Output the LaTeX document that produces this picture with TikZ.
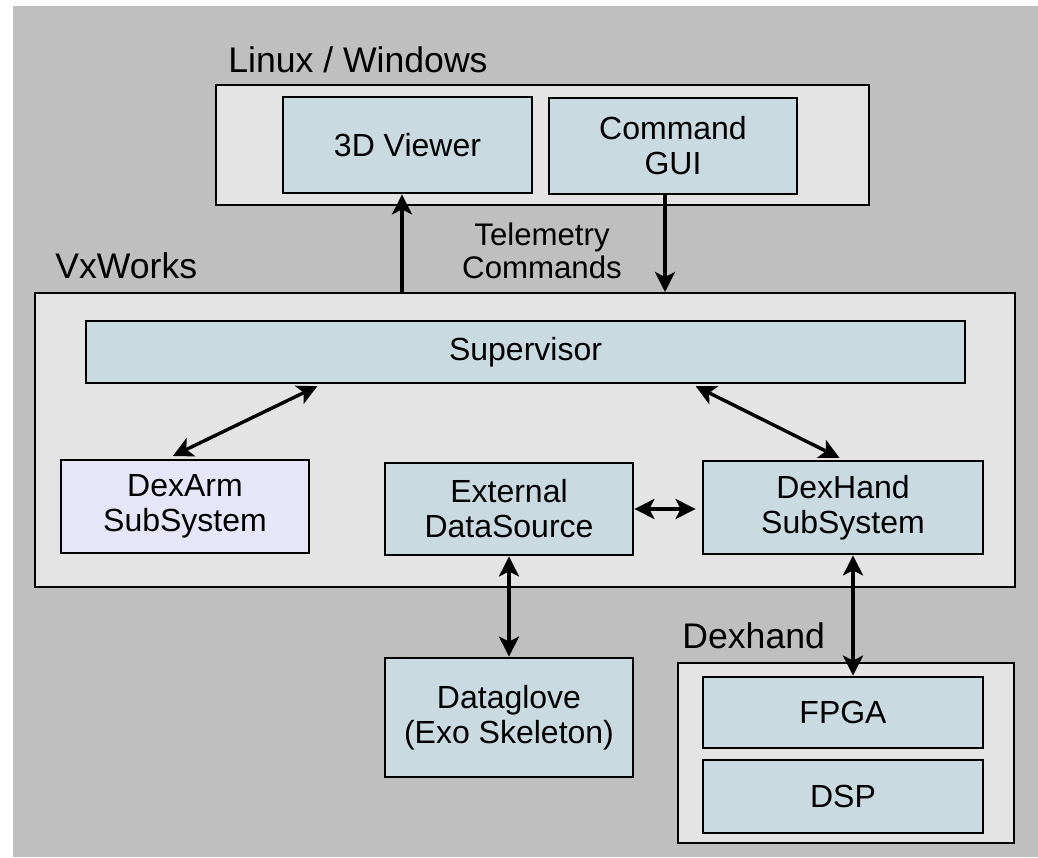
\documentclass[tikz,border=0pt]{standalone}
\usepackage{fontspec}
\setmainfont{Liberation Sans}
\usetikzlibrary{calc, arrows.meta}

\definecolor{PageGray}{HTML}{BFBFBF}
\definecolor{HostFill}{HTML}{E4E4E4}
\definecolor{UnitFill}{HTML}{C9DAE0}
\definecolor{ArmFill}{HTML}{E6E6F8}

\tikzset{
  host/.style={draw, fill=HostFill, line width=1pt, inner sep=0pt},
  unit/.style={draw, fill=UnitFill, line width=1.4pt, inner sep=0pt,
    align=center, font=\fontsize{16}{17.5}\selectfont},
  hostlabel/.style={anchor=base west, inner sep=0pt,
    font=\fontsize{17.8}{20}\selectfont},
  link/.style={line width=1.7pt,
    >={Stealth[length=10pt, width=10pt, inset=2.5pt]}}
}

\begin{document}
\begin{tikzpicture}[x=0.5pt, y=-0.5pt]

\useasboundingbox [fill=white] (0,0) rectangle (1038,857);
\fill [PageGray] (13,6) rectangle (1038,857);

% Linux / Windows
\node [host, minimum width=326.5pt, minimum height=60pt] (linux) at (542.5,145) {};
\node [hostlabel] (linuxlabel) at (228,72) {Linux / Windows};
\node [unit, minimum width=124.5pt, minimum height=48pt] (viewer) at (407.5,145) {3D Viewer};
\node [unit, minimum width=124pt, minimum height=48pt] (gui) at (673,146) {Command\\GUI};

% VxWorks
\node [host, minimum width=490pt, minimum height=147pt] (vxworks) at (525,440) {};
\node [hostlabel] (vxlabel) at (55,278) {VxWorks};
\node [unit, minimum width=439.5pt, minimum height=31pt] (supervisor) at (525.5,352) {Supervisor};
\node [unit, fill=ArmFill, minimum width=124pt, minimum height=46.5pt] (dexarm) at (185,506.5) {DexArm\\SubSystem};
\node [unit, minimum width=124pt, minimum height=46pt] (extds) at (509,509) {External\\DataSource};
\node [unit, minimum width=140pt, minimum height=46.5pt] (dexhand) at (843,507.5) {DexHand\\SubSystem};

% Dataglove and Dexhand
\node [unit, minimum width=124pt, minimum height=59.5pt] (glove) at (509,717.5) {Dataglove\\(Exo Skeleton)};
\node [host, minimum width=168pt, minimum height=90pt] (handbox) at (846,753) {};
\node [hostlabel] (handlabel) at (682,648) {Dexhand};
\node [unit, minimum width=140pt, minimum height=35.5pt] (fpga) at (843,712.5) {FPGA};
\node [unit, minimum width=140pt, minimum height=36.5pt] (dsp) at (843,796.5) {DSP};

\node [align=center, font=\fontsize{15.6}{16.5}\selectfont] (telemetry) at (542,251) {Telemetry\\Commands};

% connectors
\draw [link, ->] ([xshift=-2.75pt]viewer.south |- vxworks.north) -- ([xshift=-2.75pt]viewer.south);
\draw [link, ->] ([xshift=-4pt]gui.south) -- ([xshift=-4pt]gui.south |- vxworks.north);
\draw [link, <->, shorten <=3pt, shorten >=2pt]
      ($(dexarm.north west)!0.43!(dexarm.north east)$)
      -- ($(supervisor.south west)!0.268!(supervisor.south east)$);
\draw [link, <->, shorten <=2pt, shorten >=2pt]
      ($(supervisor.south west)!0.689!(supervisor.south east)$) -- (dexhand.north);
\draw [link, <->, shorten >=3pt] (extds.east) -- (extds.east -| dexhand.west);
\draw [link, <->] (extds.south) -- (glove.north);
\draw [link, <->] ([xshift=5pt]dexhand.south) -- ([xshift=5pt]fpga.north);

\end{tikzpicture}
\end{document}
